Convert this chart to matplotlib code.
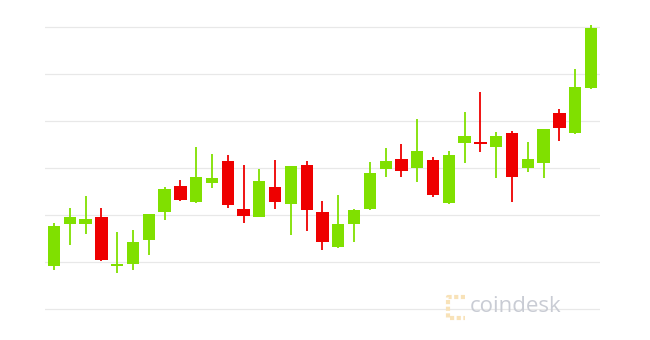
import matplotlib
matplotlib.use("Agg")
import matplotlib.pyplot as plt
from matplotlib.lines import Line2D

# daily candles, oldest first
opens  = [9092, 9181, 9181, 9196, 9092, 9096, 9147, 9206, 9262, 9228,
          9268, 9315, 9213, 9196, 9260, 9223, 9306, 9206, 9132, 9181,
          9213, 9298, 9319, 9300, 9317, 9226, 9353, 9355, 9345, 9375,
          9300, 9311, 9417, 9375, 9470]
highs  = [9183, 9215, 9240, 9215, 9164, 9168, 9202, 9260, 9275, 9345,
          9330, 9328, 9306, 9298, 9317, 9304, 9315, 9230, 9243, 9213,
          9313, 9343, 9351, 9404, 9323, 9336, 9419, 9462, 9377, 9379,
          9355, 9383, 9426, 9511, 9604]
lows   = [9083, 9136, 9160, 9102, 9077, 9083, 9115, 9189, 9230, 9226,
          9257, 9215, 9183, 9195, 9213, 9157, 9166, 9126, 9130, 9143,
          9211, 9281, 9281, 9270, 9238, 9224, 9311, 9334, 9279, 9228,
          9292, 9279, 9357, 9373, 9468]
closes = [9177, 9196, 9192, 9104, 9096, 9143, 9202, 9255, 9232, 9281,
          9279, 9221, 9198, 9272, 9228, 9304, 9211, 9143, 9181, 9211,
          9289, 9315, 9294, 9336, 9243, 9328, 9368, 9351, 9368, 9281,
          9319, 9383, 9385, 9472, 9598]
grid_levels = [9000, 9100, 9200, 9300, 9400, 9500, 9600]

up_color = "#80e000"
down_color = "#ee0000"

fig = plt.figure(figsize=(6.5, 3.4), dpi=100)
ax = fig.add_axes([45 / 650, 0.036, 555 / 650, 0.912])

for i in range(len(opens)):
    o, h, l, c = opens[i], highs[i], lows[i], closes[i]
    col = up_color if c >= o else down_color
    ax.vlines(i, l, h, color=col, linewidth=1.3, zorder=2)
    body = max(abs(c - o), 2)
    ax.bar(i, body, bottom=min(o, c), width=0.78, color=col, zorder=3)

for g in grid_levels:
    ax.axhline(g, color="#e8e8e8", linewidth=0.9, zorder=1)

ax.set_xlim(-0.57, 34.57)
ax.set_ylim(8960, 9620)
for s in ax.spines.values():
    s.set_visible(False)
ax.set_xticks([])
ax.set_yticks([])
ax.patch.set_alpha(0)

# coindesk watermark
fig.add_artist(Line2D([465 / 650, 448 / 650, 448 / 650, 465 / 650],
                      [1 - 297 / 340, 1 - 297 / 340, 1 - 318 / 340, 1 - 318 / 340],
                      color="#f8e2b8", linewidth=3, linestyle=(0, (1, 0.6)),
                      transform=fig.transFigure))
fig.text(470 / 650, 1 - 307 / 340, "coindesk", fontsize=16, color="#c9ccd4",
         va="center", ha="left", family="Open Sans")

fig.savefig("out.png", dpi=100, facecolor="white")
